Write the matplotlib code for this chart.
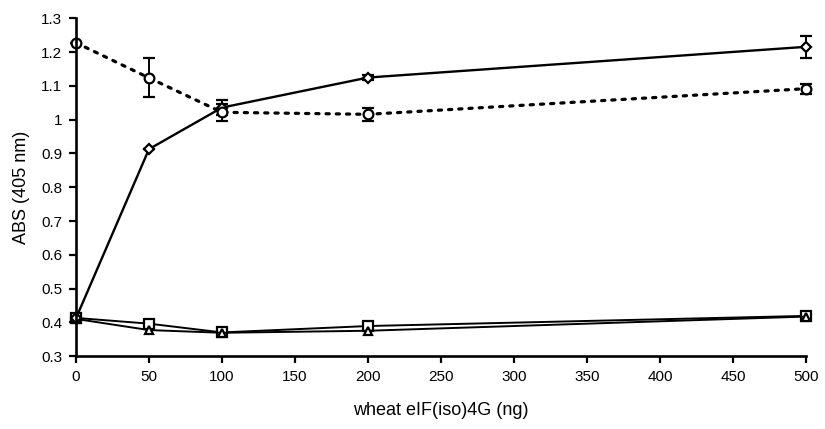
import matplotlib
matplotlib.use("Agg")
import matplotlib.pyplot as plt
import numpy as np

plt.rcParams['font.family'] = ['Liberation Sans', 'DejaVu Sans']

# Amount of wheat eIF(iso)4G added (ng)
protein_ng = [0, 50, 100, 200, 500]

# Absorbance at 405 nm for each series, with standard error
circle_abs = [1.228, 1.124, 1.022, 1.016, 1.092]
circle_err = [0.0, 0.058, 0.025, 0.02, 0.015]

diamond_abs = [0.412, 0.913, 1.036, 1.125, 1.216]
diamond_err = [0.0, 0.0, 0.022, 0.007, 0.032]

square_abs = [0.413, 0.396, 0.370, 0.389, 0.419]
triangle_abs = [0.410, 0.377, 0.369, 0.375, 0.417]

y_ticks = [0.3, 0.4, 0.5, 0.6, 0.7, 0.8, 0.9, 1.0, 1.1, 1.2, 1.3]
y_tick_labels = ["0.3", "0.4", "0.5", "0.6", "0.7", "0.8", "0.9", "1", "1.1", "1.2", "1.3"]
x_ticks = [0, 50, 100, 150, 200, 250, 300, 350, 400, 450, 500]

fig = plt.figure(figsize=(8.25, 4.29), dpi=100)
ax = fig.add_axes([0.0921, 0.170, 0.885, 0.787])

common = dict(color='black', markerfacecolor='white', markeredgecolor='black',
              markeredgewidth=1.6, capsize=4, elinewidth=1.4, capthick=1.4,
              clip_on=False)

ax.errorbar(protein_ng, square_abs, marker='s', markersize=7, linestyle='-',
            linewidth=1.4, **common)
ax.errorbar(protein_ng, triangle_abs, marker='^', markersize=6, linestyle='-',
            linewidth=1.4, **common)
ax.errorbar(protein_ng, diamond_abs, yerr=diamond_err, marker='D', markersize=5.5,
            linestyle='-', linewidth=1.7, **common)
ax.errorbar(protein_ng, circle_abs, yerr=circle_err, marker='o', markersize=7,
            linestyle=(0, (1, 2.2)), linewidth=2.3, dash_capstyle='round', **common)

ax.set_xlim(0, 500)
ax.set_ylim(0.3, 1.3)
ax.set_xticks(x_ticks)
ax.set_yticks(y_ticks)
ax.set_yticklabels(y_tick_labels)

for side in ('top', 'right'):
    ax.spines[side].set_visible(False)
for side in ('left', 'bottom'):
    ax.spines[side].set_linewidth(1.9)

ax.tick_params(axis='both', direction='out', length=5, width=1.6,
               labelsize=11, pad=5)
ax.set_xlabel("wheat eIF(iso)4G (ng)", fontsize=13, va='center')
ax.set_ylabel("ABS (405 nm)", fontsize=13, va='center')
ax.xaxis.set_label_coords(0.5, -0.162)
ax.yaxis.set_label_coords(-0.074, 0.5)

fig.savefig("out.png", dpi=100)
